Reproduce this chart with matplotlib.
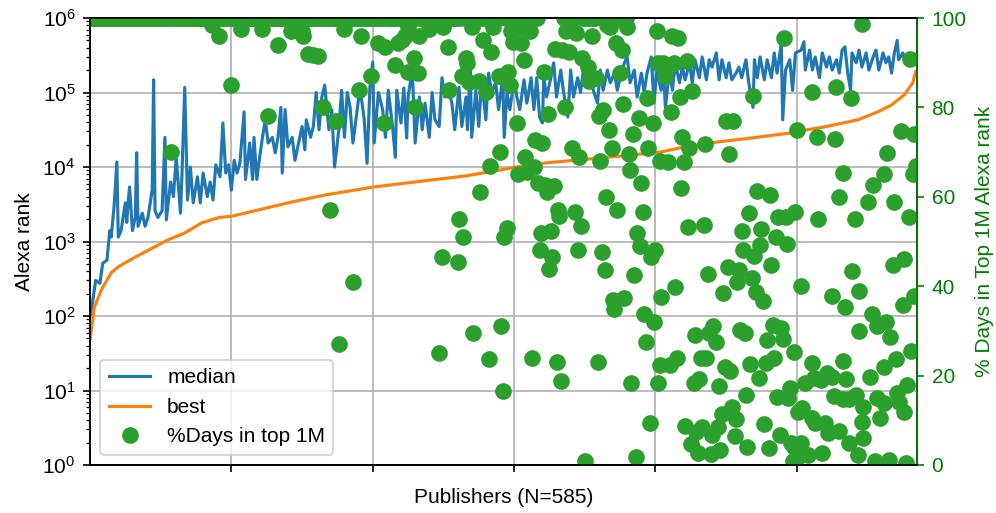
import matplotlib
matplotlib.use("Agg")
import matplotlib.pyplot as plt
import numpy as np

plt.rcParams['font.family'] = ['Liberation Sans', 'DejaVu Sans']
plt.rcParams['font.size'] = 10

N = 585

# ---- median Alexa rank per publisher (publisher index, rank) ----
median_idx = [0, 1, 4, 7, 9, 12, 14, 15, 17, 19, 20, 22, 25, 26, 27, 28, 30, 32, 33, 34, 37, 39, 41, 44, 45, 46, 48, 51, 53, 54, 57, 59, 61, 64, 65, 67, 69, 71, 73, 76, 78, 80, 83, 85, 87, 89, 92, 94, 96, 98, 100,
              102, 104, 106, 109, 110, 113, 115, 116, 118, 120, 122, 124, 126, 129, 131, 133, 135, 136, 138, 140, 143, 145, 147, 150, 152, 153, 156, 158, 160, 162, 164, 166, 169, 171, 173, 176, 178, 180, 182, 184, 186, 189, 191, 194, 196, 198, 200, 201,
              204, 207, 209, 211, 214, 216, 217, 220, 222, 224, 225, 228, 230, 233, 235, 237, 240, 242, 244, 247, 249, 251, 254, 256, 258, 261, 263, 266, 267, 269, 270, 273, 275, 277, 280, 282, 284, 287, 289, 292, 293, 295, 297, 300, 302,
              304, 307, 309, 312, 314, 316, 318, 320, 321, 323, 326, 328, 330, 333, 335, 338, 340, 342, 345, 347, 349, 352, 354, 356, 359, 361, 363, 366, 368, 371, 373, 375, 378, 380, 382, 385, 387, 390, 392, 394, 397, 399, 401,
              404, 406, 407, 410, 412, 414, 417, 419, 421, 424, 426, 428, 431, 433, 436, 438, 440, 443, 445, 447, 450, 452, 454, 457, 459, 461, 464, 466, 469, 470, 472, 474, 477, 479, 482, 484, 486, 489, 490, 492, 495, 497, 499,
              503, 505, 506, 509, 511, 513, 516, 518, 521, 523, 525, 528, 530, 532, 534, 536, 538, 539, 542, 544, 546, 549, 551, 554, 556, 558, 561, 563, 565, 567, 569, 571, 572, 575, 577, 580, 582, 584]
median_rank = [100, 120, 300, 275, 510, 560, 1400, 1150, 2900, 11700, 1150, 1400, 3300, 1800, 3400, 5400, 1400, 2100, 15500, 1600, 2400, 1600, 2100, 4900, 148000, 2600, 2100, 2600, 25000, 1950, 6300, 4000, 13500, 2400, 7400, 117000, 3600, 10000, 3300, 7400, 3300, 8300, 4000, 6300, 3600, 10700, 7400, 39000, 8300, 10700, 4900,
               12300, 8300, 11200, 55000, 6800, 21000, 6800, 25000, 6800, 13500, 25000, 43000, 21000, 25000, 15500, 25000, 63000, 8300, 59000, 18600, 25000, 12300, 18600, 35000, 17000, 43000, 25000, 35000, 100000, 31600, 87000, 126000, 31600, 59000, 10000, 31600, 107000, 25000, 100000, 63000, 21000, 59000, 117000, 43000, 11200, 117000, 257000, 21000,
               100000, 59000, 25000, 107000, 35000, 13500, 107000, 39000, 115000, 24500, 87000, 200000, 21000, 87000, 31600, 72000, 25000, 100000, 43000, 35000, 158000, 87000, 100000, 72000, 31600, 117000, 35000, 87000, 31600, 219000, 25000, 107000, 35000, 148000, 43000, 182000, 100000, 135000, 59000, 158000, 25000, 100000, 59000, 148000, 87000,
               59000, 148000, 72000, 158000, 59000, 158000, 47000, 39000, 158000, 87000, 158000, 250000, 87000, 200000, 100000, 47000, 200000, 87000, 158000, 100000, 200000, 117000, 200000, 107000, 72000, 200000, 107000, 200000, 135000, 182000, 107000, 158000, 250000, 300000, 135000, 200000, 87000, 182000, 100000, 182000, 300000, 72000, 200000,
               107000, 158000, 63000, 200000, 107000, 250000, 135000, 219000, 148000, 250000, 135000, 275000, 158000, 300000, 148000, 275000, 219000, 340000, 148000, 275000, 158000, 250000, 148000, 182000, 219000, 158000, 275000, 135000, 63000, 275000, 158000, 300000, 148000, 275000, 158000, 340000, 182000, 457000, 43000, 200000, 275000, 107000, 340000,
               370000, 480000, 200000, 370000, 200000, 300000, 158000, 340000, 219000, 300000, 200000, 275000, 182000, 370000, 410000, 182000, 107000, 340000, 250000, 370000, 219000, 340000, 200000, 300000, 370000, 200000, 340000, 250000, 300000, 182000, 340000, 500000, 275000, 340000, 250000, 300000, 250000, 300000]

# ---- best Alexa rank per publisher (sorted) ----
best_idx = [0, 1, 3, 8, 15, 20, 32, 44, 55, 67, 79, 91, 101, 119, 143, 166, 201, 230, 266, 302, 321, 345, 368, 403, 420, 444, 467, 496, 500, 519, 543, 557, 567, 576, 582, 584]
best_rank = [48, 65, 130, 224, 380, 457, 617, 813, 1050, 1300, 1780, 2090, 2200, 2650, 3400, 4200, 5400, 6300, 7600, 10000, 11300, 12400, 13600, 15800, 18500, 21700, 24400, 28700, 30000, 34400, 42900, 54600, 68000, 93000, 135000, 190000]

# ---- % days in top 1M: publishers below 100% (index, percent) ----
days_idx = [57, 86, 91, 100, 107, 122, 126, 133, 142, 150, 151, 154, 158, 161, 165, 170, 174, 176, 180, 186, 190, 192, 199,
            204, 208, 209, 216, 218, 221, 223, 225, 225, 229, 230, 232, 233, 240, 247, 249, 250, 253, 254, 260, 261, 263, 264, 266, 267, 268, 270, 271, 275, 276, 278, 280, 282, 283, 284, 285, 289, 290, 291, 292, 293, 295, 296, 297, 298, 299,
            302, 303, 304, 305, 307, 308, 309, 311, 313, 314, 315, 317, 318, 319, 320, 321, 322, 323, 324, 325, 326, 327, 328, 329, 330, 331, 332, 333, 334, 336, 337, 339, 341, 343, 344, 345, 346, 347, 348, 350, 352, 353, 355, 358, 359,
            360, 361, 362, 363, 364, 365, 366, 367, 368, 369, 370, 371, 372, 373, 375, 376, 377, 378, 380, 381, 382, 383, 384, 385, 386, 387, 388, 389, 390, 391, 392, 393, 394, 395, 396, 397, 398, 399, 400, 401, 402, 402, 403, 403,
            404, 405, 407, 409, 410, 411, 412, 413, 414, 415, 416, 417, 418, 419, 420, 421, 422, 423, 424, 425, 426, 427, 428, 429, 430, 431, 432, 433, 434, 435, 436, 437, 438, 439, 440, 441, 443, 444, 445, 446, 447, 448, 449,
            450, 451, 452, 453, 454, 455, 456, 457, 458, 459, 460, 461, 462, 463, 464, 465, 466, 467, 468, 469, 470, 471, 472, 473, 474, 475, 476, 477, 478, 479, 480, 481, 482, 483, 484, 485, 486, 487, 488, 489, 490, 491, 492, 493, 494, 495, 496, 497, 498, 498,
            499, 500, 501, 501, 503, 503, 504, 506, 508, 511, 511, 511, 512, 513, 514, 515, 517, 518, 520, 521, 522, 525, 525, 526, 527, 528, 530, 530, 533, 533, 533, 534, 535, 537, 537, 538, 539, 541, 542, 543, 544, 544,
            546, 546, 547, 547, 550, 552, 553, 554, 555, 557, 557, 559, 562, 562, 562, 563, 564, 565, 566, 568, 569, 570, 571, 572, 574, 575, 576, 576, 577, 578, 579, 580, 581, 582, 583, 583, 584]
days_pct = [70, 98.5, 96, 85, 97.5, 97.5, 78, 94, 97, 97, 96, 92, 91.7, 91.5, 80, 57, 77, 27, 97.5, 41, 84, 96, 87,
            94.4, 76.5, 93.5, 89.5, 94.4, 95, 96, 98, 88, 91, 80, 87.7, 96, 97.5, 25, 46.5, 98, 93.5, 84, 45.4, 55, 87, 51, 91, 90, 85.7, 98, 29.5, 86, 61, 95, 83.5, 23.7, 67, 92.4, 98, 87, 70, 31, 16.5, 51, 53, 88, 85, 97, 94.6,
            76.5, 65, 98, 94.4, 90.6, 69, 65.5, 97, 24, 66.7, 72.7, 63, 48, 52, 72, 88, 62.6, 61, 78.5, 43.8, 52.3, 46.5, 62.4, 93, 23, 57, 55.7, 18.8, 92.8, 80, 97, 92.4, 71, 56.6, 96.6, 48, 69, 53.5, 91, 1, 89, 86, 96, 86.6, 23,
            78, 68, 47.6, 79.4, 43.6, 60, 98.4, 75, 98, 71, 37, 35, 94.4, 57, 87.7, 92.8, 80.8, 37.4, 98, 69.6, 66, 18.3, 74, 42.5, 1.8, 52, 77.6, 49, 63, 56.6, 33.8, 27.5, 82, 71, 9.4, 46.5, 76.5, 32, 48, 97, 90, 18.3, 68, 22.4,
            37.6, 90, 87, 67.8, 22.4, 79, 96, 90, 39.8, 24, 95.5, 82.3, 62, 73.4, 67.8, 8.7, 90.4, 53.2, 71, 4.7, 83.7, 18.3, 29, 7.4, 2.7, 19.2, 24, 8.5, 53.7, 71.8, 24, 42.7, 29.5, 2.5, 6.7, 31, 27.5, 8.5, 17.7, 3.4, 11.4, 38.5, 22,
            77, 44.3, 69.6, 21, 13, 77, 6.5, 10.3, 41, 43.6, 30.2, 52.3, 48, 29.5, 15.7, 4, 56.4, 22.6, 41.8, 82.6, 46.8, 38.7, 61.3, 19.5, 49.2, 52.8, 36.7, 9.2, 22.8, 28, 3.8, 60.4, 44.7, 31.3, 24, 51, 15.2, 55.5, 6.7, 30.6, 28.2, 95.5, 55.5, 49.4, 15, 17.2, 4.9, 0.9, 25.3, 4,
            56.6, 75, 11.9, 1.8, 40, 5, 12.8, 18.3, 2.2, 83.4, 22.8, 10.5, 19.5, 9.4, 73.4, 55, 19, 2.7, 9.4, 20.6, 7.2, 37.8, 19.7, 15.4, 73, 84.6, 60, 7.6, 65.3, 23.3, 14.8, 35.3, 19.2, 14.8, 4.9, 82, 43.4, 55, 15.7, 2.2, 39, 30,
            98.7, 9.6, 13, 6, 58.8, 19.7, 33.8, 62.6, 1, 31, 15, 10.5, 65, 22, 13.9, 32, 69.8, 1.1, 28.6, 44.7, 58.8, 23.7, 16, 14, 74.7, 35.8, 46, 11.9, 0.5, 18, 55.5, 90.8, 25.5, 65, 74, 37.8, 67]

# publishers whose rank stayed in the top 1M on every day (100%): index ranges
full_ranges = [(0, 296), (300, 318), (330, 360), (362, 382)]

listed = set(days_idx)
full_idx = [i for a, b in full_ranges for i in range(a, b) if i not in listed]
all_idx = np.array(list(full_idx) + list(days_idx))
all_pct = np.array([100.0] * len(full_idx) + list(days_pct))
order = np.argsort(all_idx, kind='stable')
all_idx = all_idx[order]
all_pct = all_pct[order]

fig = plt.figure(figsize=(996 / 150, 513 / 150), dpi=150)
ax1 = fig.add_axes([90 / 996, 48 / 513, 827 / 996, 447 / 513])
ax1.set_yscale('log')
l1, = ax1.plot(median_idx, median_rank, color='#1f77b4', lw=1.5, label='median')
l2, = ax1.plot(best_idx, best_rank, color='#ff7f0e', lw=1.5, label='best')
ax1.set_ylim(1, 1e6)
ax1.set_xlim(0, N)
ax1.set_xticks([100, 200, 300, 400, 500])
ax1.set_xticklabels([])
ax1.grid(True, color='#b0b0b0', lw=0.8)
ax1.set_xlabel('Publishers (N=585)')
ax1.set_ylabel('Alexa rank')

ax2 = ax1.twinx()
l3, = ax2.plot(all_idx, all_pct, 'o', color='#2ca02c', markersize=7, linestyle='none',
               label='%Days in top 1M')
ax2.set_ylim(0, 100)
ax2.set_yticks([0, 20, 40, 60, 80, 100])
ax2.set_ylabel('% Days in Top 1M Alexa rank', color='green')
ax2.tick_params(axis='y', colors='green')
ax2.spines['right'].set_color('green')
ax2.set_xlim(0, N)

ax2.legend(handles=[l1, l2, l3], loc='lower left')

fig.savefig('out.png', dpi=150)
